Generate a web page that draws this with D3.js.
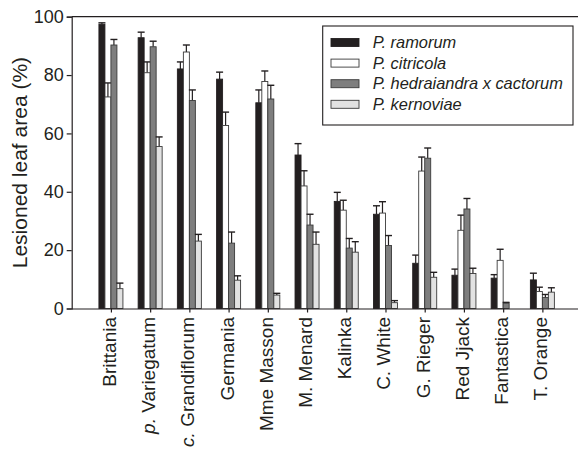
<!DOCTYPE html>
<html>
<head>
<meta charset="utf-8">
<script src="https://cdn.jsdelivr.net/npm/d3@7"></script>
<style>
  html, body { margin: 0; padding: 0; background: #fff; }
  svg { display: block; font-family: "Liberation Sans", Arial, Helvetica, sans-serif; }
</style>
</head>
<body>
<svg id="chart" width="578" height="452"></svg>
<script>
// Cultivars (x axis); a leading italic prefix is given separately
const cultivars = ["Brittania", "Variegatum", "Grandiflorum", "Germania", "Mme Masson", "M. Menard",
                   "Kalinka", "C. White", "G. Rieger", "Red Jjack", "Fantastica", "T. Orange"];
const italicPrefix = ["", "p.", "c.", "", "", "", "", "", "", "", "", ""];

// Species shown in the legend
const species = ["P. ramorum", "P. citricola", "P. hedraiandra x cactorum", "P. kernoviae"];

// Mean lesioned leaf area (%) per cultivar, one array per species
const ramorum     = [97.4, 92.8, 82.1, 78.6, 70.5, 52.6, 36.7, 32.3, 15.5, 11.4, 10.4, 9.8];
const citricola   = [72.5, 80.8, 87.9, 62.7, 77.8, 42.0, 33.7, 32.7, 47.1, 26.8, 16.5, 5.8];
const hedraiandra = [90.3, 89.7, 71.3, 22.4, 71.8, 28.6, 20.7, 21.6, 51.5, 34.1, 1.8, 3.8];
const kernoviae   = [6.8, 55.5, 23.1, 9.7, 4.6, 22.0, 19.3, 2.0, 10.7, 12.0, 0, 5.6];

// Standard errors (upper whisker length)
const ramorumErr     = [0.5, 1.9, 2.4, 2.4, 4.4, 3.9, 3.1, 2.9, 2.8, 2.1, 1.2, 2.3];
const citricolaErr   = [4.8, 3.7, 2.4, 4.6, 3.6, 5.2, 3.4, 3.9, 4.8, 5.2, 3.8, 1.5];
const hedraiandraErr = [1.9, 1.9, 3.6, 3.8, 4.7, 3.7, 3.3, 3.4, 3.5, 3.6, 0.3, 1.0];
const kernoviaeErr   = [1.9, 3.3, 2.3, 1.5, 0.6, 4.2, 3.6, 0.7, 1.7, 1.8, 0, 1.5];

const yTicks = [0, 20, 40, 60, 80, 100];

const seriesValues = [ramorum, citricola, hedraiandra, kernoviae];
const seriesErrors = [ramorumErr, citricolaErr, hedraiandraErr, kernoviaeErr];
const fills = ["#231f20", "#ffffff", "#7e7e7e", "#e2e2e2"];
const ink = "#231f20";

const svg = d3.select("#chart");

const plotLeft = 71.7, plotRight = 581.6, plotTop = 16.7, plotBottom = 308.5;

const x = d3.scalePoint().domain(cultivars).range([plotLeft, plotRight]).padding(1);
const y = d3.scaleLinear().domain([0, 100]).range([plotBottom, plotTop]);

const barW = 6;
const offsets = [-12, -6, 0, 6];

// Frame line along the top of the plot
svg.append("line")
  .attr("x1", plotLeft).attr("x2", 578).attr("y1", plotTop).attr("y2", plotTop)
  .attr("stroke", ink).attr("stroke-width", 1.2);

// Bars and error bars
seriesValues.forEach((vals, s) => {
  const g = svg.append("g");
  vals.forEach((v, i) => {
    if (v <= 0) return;
    const x0 = x(cultivars[i]) + offsets[s];
    const cx = x0 + barW / 2;
    const e = seriesErrors[s][i];
    g.append("line")
      .attr("x1", cx).attr("x2", cx)
      .attr("y1", y(v)).attr("y2", y(v + e))
      .attr("stroke", ink).attr("stroke-width", 1.2);
    g.append("line")
      .attr("x1", cx - 3.5).attr("x2", cx + 3.5)
      .attr("y1", y(v + e)).attr("y2", y(v + e))
      .attr("stroke", ink).attr("stroke-width", 1.4);
    g.append("rect")
      .attr("x", x0).attr("y", y(v))
      .attr("width", barW).attr("height", y(0) - y(v))
      .attr("fill", fills[s])
      .attr("stroke", s === 0 ? ink : "#3a3a3a")
      .attr("stroke-width", 0.9);
  });
});

// Y axis
const yAxis = svg.append("g")
  .attr("transform", `translate(${plotLeft},0)`)
  .call(d3.axisLeft(y).tickValues(yTicks).tickSize(5).tickPadding(3));
yAxis.select(".domain").attr("stroke", ink).attr("stroke-width", 1.2);
yAxis.selectAll(".tick line").attr("stroke", ink).attr("stroke-width", 1.2);
yAxis.selectAll(".tick text")
  .attr("font-size", 18).attr("fill", ink)
  .attr("font-family", "'Liberation Sans', Arial, sans-serif");

// X axis
const xAxis = svg.append("g")
  .attr("transform", `translate(0,${plotBottom})`)
  .call(d3.axisBottom(x).tickSize(4).tickFormat(""));
xAxis.select(".domain").attr("d", `M${plotLeft},0.5H578`).attr("stroke", ink).attr("stroke-width", 1.2);
xAxis.selectAll(".tick line").attr("stroke", ink).attr("stroke-width", 1.2);

// Rotated cultivar labels
const labels = svg.append("g").selectAll("text")
  .data(cultivars)
  .join("text")
  .attr("transform", d => `translate(${x(d)},317) rotate(-90)`)
  .attr("text-anchor", "end")
  .attr("dy", "0.26em")
  .attr("font-size", 19)
  .attr("fill", ink);
labels.each(function(d, i) {
  const t = d3.select(this);
  if (italicPrefix[i]) {
    t.append("tspan").attr("font-style", "italic").text(italicPrefix[i] + " ");
  }
  t.append("tspan").text(d);
});

// Y axis title
svg.append("text")
  .attr("transform", `translate(27,${(plotTop + plotBottom) / 2}) rotate(-90)`)
  .attr("text-anchor", "middle")
  .attr("font-size", 21)
  .attr("fill", ink)
  .text("Lesioned leaf area (%)");

// Legend
const lg = svg.append("g");
lg.append("rect")
  .attr("x", 322.7).attr("y", 26).attr("width", 250.3).attr("height", 99)
  .attr("fill", "#fff").attr("stroke", ink).attr("stroke-width", 1.1);
species.forEach((name, s) => {
  const cy = 42.5 + s * 20.6;
  lg.append("rect")
    .attr("x", 331).attr("y", cy - 4).attr("width", 28).attr("height", 8)
    .attr("fill", fills[s]).attr("stroke", s === 0 ? ink : "#3a3a3a").attr("stroke-width", 0.9);
  lg.append("text")
    .attr("x", 372.7).attr("y", cy).attr("dy", "0.35em")
    .attr("font-size", 16.4).attr("font-style", "italic").attr("fill", ink)
    .text(name);
});
</script>
</body>
</html>
